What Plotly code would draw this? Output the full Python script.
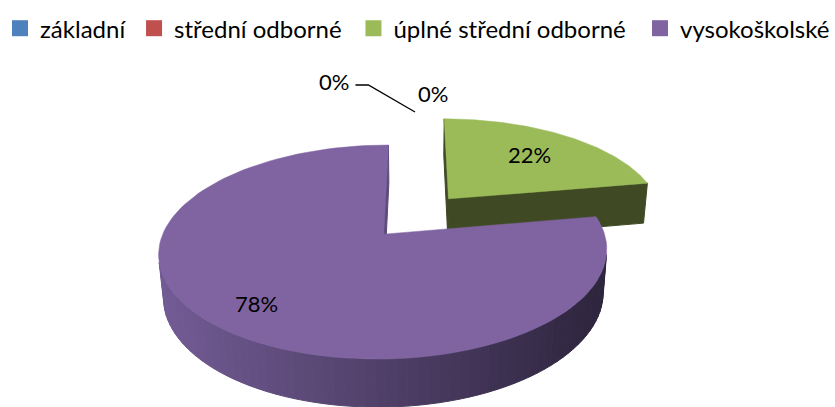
import numpy as np
import plotly.graph_objects as go

# ---- data ----
categories = ["základní", "střední odborné", "úplné střední odborné", "vysokoškolské"]
counts = [0, 0, 2, 7]
top_colors = ["#4F81BD", "#C0504D", "#9BBB59", "#8064A2"]
face_colors = ["#2F4D71", "#73302E", "#3F4A24", "#5E4A7C"]
wall_light = [(60, 95, 140), (140, 60, 58), (90, 110, 50), (114, 91, 148)]
wall_dark = [(30, 48, 72), (72, 30, 30), (50, 60, 28), (46, 37, 62)]

W, H = 835, 407
FONT = "Lato"

# ---- 3D projection parameters ----
S = 216.0
alpha = np.radians(27)
D = 5.5
CX, CY = 417.0, 216.0
DEPTH = 0.22
EXPL = 0.235
cam = np.array([0.0, -D * np.cos(alpha), D * np.sin(alpha)])


def proj(X, Y, Z):
    u = Y * np.sin(alpha) + Z * np.cos(alpha)
    v = Y * np.cos(alpha) - Z * np.sin(alpha)
    s = D / (D + v)
    return CX + S * X * s, CY - S * u * s


def rgb(c):
    return "rgb(%d,%d,%d)" % tuple(int(round(x)) for x in c)


fig = go.Figure()

total = sum(counts)
fracs = [c / total for c in counts]
starts = np.cumsum([0] + fracs[:-1]) * 360.0
label_r = {2: 0.67, 3: 0.78}


def poly(xs, ys, color, lw=1):
    fig.add_trace(go.Scatter(x=list(xs) + [xs[0]], y=list(ys) + [ys[0]], mode="lines",
                             fill="toself", fillcolor=color,
                             line=dict(color=color, width=lw),
                             hoverinfo="skip", showlegend=False))


for i, (f, a0) in enumerate(zip(fracs, starts)):
    if f <= 0:
        continue
    a1 = a0 + f * 360.0
    mid = np.radians((a0 + a1) / 2)
    cxw, cyw = EXPL * np.sin(mid), EXPL * np.cos(mid)
    th = np.radians(np.linspace(a0, a1, 121))
    X = cxw + np.sin(th)
    Y = cyw + np.cos(th)

    # outer wall (visible segments only) with shading gradient
    for k in range(len(th) - 1):
        tm = (th[k] + th[k + 1]) / 2
        px, py = cxw + np.sin(tm), cyw + np.cos(tm)
        vis = np.sin(tm) * (cam[0] - px) + np.cos(tm) * (cam[1] - py)
        if vis <= 0:
            continue
        xt, yt = proj(X[k:k + 2], Y[k:k + 2], 0.0)
        xb, yb = proj(X[k:k + 2], Y[k:k + 2], -DEPTH)
        t = np.clip((xt.mean() - 160) / (600 - 160), 0, 1)
        col = np.array(wall_light[i]) * (1 - t) + np.array(wall_dark[i]) * t
        poly([xt[0], xt[1], xb[1], xb[0]], [yt[0], yt[1], yb[1], yb[0]], rgb(col))

    # radial faces
    for ang, sign in ((a0, -1), (a1, 1)):
        r = np.radians(ang)
        n = sign * np.array([np.cos(r), -np.sin(r)])
        if n[0] * (cam[0] - cxw) + n[1] * (cam[1] - cyw) <= 0.02:
            continue
        ex, ey = cxw + np.sin(r), cyw + np.cos(r)
        x1, y1 = proj(np.array([cxw, ex]), np.array([cyw, ey]), 0.0)
        x2, y2 = proj(np.array([cxw, ex]), np.array([cyw, ey]), -DEPTH)
        poly([x1[0], x1[1], x2[1], x2[0]], [y1[0], y1[1], y2[1], y2[0]], face_colors[i])

    # top face
    xt, yt = proj(np.concatenate([[cxw], X]), np.concatenate([[cyw], Y]), 0.0)
    poly(xt, yt, top_colors[i], lw=0.5)

    # percentage label
    lr = label_r.get(i, 0.6)
    lx, ly = proj(np.array([cxw + lr * np.sin(mid)]), np.array([cyw + lr * np.cos(mid)]), 0.0)
    fig.add_annotation(x=lx[0], y=ly[0], text="%d%%" % round(100 * f), showarrow=False,
                       font=dict(family=FONT, size=22, color="black"))

# zero-value labels (placed above the gap, with leader line)
zero_pos = [(333, 81), (433, 93)]
for (zx, zy), f in zip(zero_pos, fracs[:2]):
    fig.add_annotation(x=zx, y=zy, text="%d%%" % round(100 * f), showarrow=False,
                       font=dict(family=FONT, size=22, color="black"))
fig.add_trace(go.Scatter(x=[355, 368, 415], y=[85, 85, 112], mode="lines",
                         line=dict(color="black", width=1.3), hoverinfo="skip", showlegend=False))

# legend entries: one small legend per category, laid out in a row
legend_x = [-3, 132, 353, 642]
legend_names = ["legend", "legend2", "legend3", "legend4"]
for name, col, lg in zip(categories, top_colors, legend_names):
    fig.add_trace(go.Scatter(x=[None], y=[None], mode="markers", name=name, legend=lg,
                             marker=dict(symbol="square", size=16, color=col,
                                         line=dict(width=0))))

legend_layout = {}
for lg, lxp in zip(legend_names, legend_x):
    legend_layout[lg] = dict(orientation="h", x=lxp / W, y=0.985, xanchor="left", yanchor="top",
                             font=dict(family=FONT, size=24, color="black"),
                             bgcolor="rgba(0,0,0,0)")

fig.update_layout(
    width=W, height=H, autosize=False,
    margin=dict(l=0, r=0, t=0, b=0),
    paper_bgcolor="white", plot_bgcolor="white",
    xaxis=dict(range=[0, W], visible=False, fixedrange=True),
    yaxis=dict(range=[H, 0], visible=False, fixedrange=True),
    showlegend=True,
    **legend_layout,
)

fig.write_html("out.html", config={"displayModeBar": False},
               post_script="document.body.style.margin='0px';")
